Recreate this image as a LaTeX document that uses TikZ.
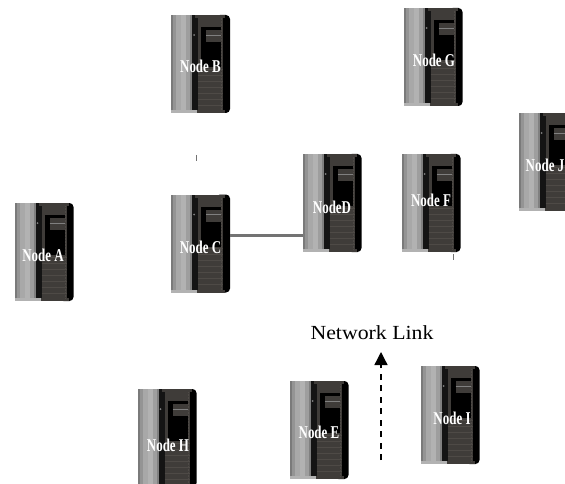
\documentclass[tikz,border=0pt]{standalone}
\usepackage{fontspec}
\setmainfont{Liberation Serif}
\usetikzlibrary{arrows.meta}
\definecolor{panel}{HTML}{3F3C39}
\definecolor{panellite}{HTML}{4E4A46}
\tikzset{
  x=1pt,y=1pt,
  racknode/.style={rectangle,inner sep=0pt,outer sep=0pt,minimum width=59pt,minimum height=98pt},
  racklabel/.style={inner sep=0pt,text=white,font=\bfseries\fontsize{18}{18}\selectfont},
  rackshape/.pic={
    \begin{scope}[shift={(-29.5,49)}]
      \fill[black,rounded corners=4pt] (45,0) rectangle (59,-98);
      \fill[black!52] (0,0) rectangle (2,-95);
      \fill[black!42] (2,0) rectangle (5,-95);
      \fill[black!34] (5,0) rectangle (10,-95);
      \fill[black!30] (10,0) rectangle (15,-95);
      \fill[black!38] (15,0) rectangle (19,-95);
      \fill[black!50] (19,0) rectangle (21,-95);
      \fill[black!30] (0,-95) rectangle (26,-98);
      \fill[black!92] (21,0) rectangle (27,-95);
      \fill[panel] (26,-95) rectangle (54,-98);
      \fill[panel] (24,0) rectangle (54,-3);
      \fill[panel] (27,0) rectangle (52,-95);
      \foreach \yy in {54,60,...,90} {\draw[panellite,line width=.8pt] (27,-\yy) -- (52,-\yy);}
      \fill[black] (30,-12) rectangle (50,-52);
      \fill[panel] (35,-15) rectangle (50,-27);
      \draw[gray,line width=.7pt] (35,-20) -- (50,-20);
      \draw[panellite,densely dotted,line width=.5pt] (50.5,-3) -- (50.5,-95);
      \fill[gray] (23,-20) circle (1pt);
    \end{scope}
  },
  linkline/.style={draw=black!55,line width=2.2pt},
  tickmark/.style={draw=black!55,line width=.8pt},
  flowarrow/.style={draw=black,line width=1.3pt,dash pattern=on 6pt off 5.5pt,-{Triangle[width=13pt,length=13pt]}},
}
\newcommand{\cnd}[1]{\scalebox{.72}[1]{#1}}
\newcommand{\rackat}[6]{%
  \pic at (#2,#3) {rackshape};
  \node[racknode] (#1) at (#2,#3) {};
  \node[racklabel,xshift=#4,yshift=#5] (#1text) at (#1) {\cnd{#6}};}
\begin{document}
\begin{tikzpicture}
\useasboundingbox (0,0) rectangle (565,-484);
\clip (0,0) rectangle (565,-484);
\rackat{A}{44}{-252}{-1pt}{-3pt}{Node A}
\rackat{B}{200.5}{-64}{0pt}{-2pt}{Node B}
\rackat{C}{200.5}{-243.5}{0pt}{-3.5pt}{Node C}
\rackat{D}{332}{-203}{0pt}{-4pt}{NodeD}
\rackat{E}{319}{-430}{0pt}{-2pt}{Node E}
\rackat{F}{431}{-203}{0pt}{3pt}{Node F}
\rackat{G}{433}{-57}{1pt}{-3pt}{Node G}
\rackat{H}{167}{-438}{1pt}{-7pt}{Node H}
\rackat{I}{450}{-415}{2pt}{-3pt}{Node I}
\rackat{J}{548}{-162}{-3pt}{-3pt}{Node J}
\node[font=\fontsize{20}{20}\selectfont,inner sep=0pt] (L) at (372,-333) {\scalebox{1.09}[1]{Network Link}};
\coordinate (cd) at (303,-235.5);
\draw[linkline] (C.east |- cd) -- (D.west |- cd);
\coordinate (a0) at (381,-460);
\coordinate (a1) at (381,-352);
\draw[flowarrow] (a0) -- (a1);
\coordinate (t1) at (196.5,-155);
\coordinate (t2) at (196.5,-161);
\draw[tickmark] (t1) -- (t2);
\coordinate (t3) at (453,-254);
\coordinate (t4) at (453,-260);
\draw[tickmark] (t3) -- (t4);
\end{tikzpicture}
\end{document}
